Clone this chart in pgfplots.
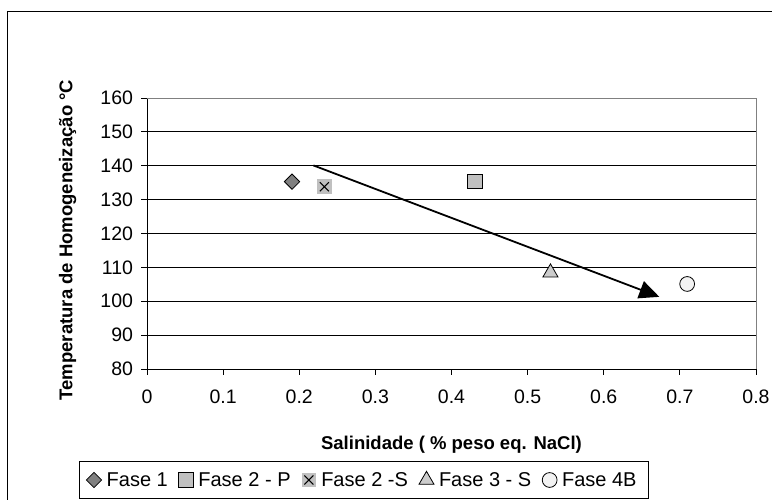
\documentclass[border=0pt]{standalone}
\usepackage{fontspec}
\setmainfont{Liberation Sans}
\usepackage{pgfplots}
\pgfplotsset{compat=1.18}
\usetikzlibrary{arrows.meta}
\definecolor{dgray}{HTML}{808080}
\definecolor{silv}{HTML}{C0C0C0}
\definecolor{tgray}{HTML}{CCCCCC}
\definecolor{cwhite}{HTML}{F2F2F2}
\pgfdeclareplotmark{grayx}{%
  \pgfsetfillcolor{silv}%
  \pgfpathrectangle{\pgfqpoint{-7.3pt}{-7.3pt}}{\pgfqpoint{14.6pt}{14.6pt}}%
  \pgfusepath{fill}%
  \pgfsetstrokecolor{black}%
  \pgfsetlinewidth{1.1pt}%
  \pgfpathmoveto{\pgfqpoint{-4.5pt}{-4.5pt}}\pgfpathlineto{\pgfqpoint{4.5pt}{4.5pt}}%
  \pgfpathmoveto{\pgfqpoint{-4.5pt}{4.5pt}}\pgfpathlineto{\pgfqpoint{4.5pt}{-4.5pt}}%
  \pgfusepath{stroke}%
}
\begin{document}
\begin{tikzpicture}
\useasboundingbox (0pt,0pt) rectangle (772pt,500pt);
\draw[black, line width=1pt] (7pt,-20pt) -- (7pt,488pt) -- (800pt,488pt);
\begin{axis}[
  at={(147pt,131pt)}, anchor=south west,
  scale only axis, width=609pt, height=271pt,
  xmin=0, xmax=0.8, ymin=80, ymax=160,
  xtick={0,0.1,0.2,0.3,0.4,0.5,0.6,0.7,0.8},
  ytick={80,90,100,110,120,130,140,150,160},
  axis lines*=left,
  axis line style={black, line width=0.9pt},
  tick align=outside, major tick length=6pt,
  tick style={black, line width=0.9pt},
  ymajorgrids, grid style={black, line width=0.8pt},
  /pgf/number format/assume math mode=true,
  ticklabel style={font=\fontsize{19.5}{22}\selectfont},
  xticklabel style={yshift=-11pt},
  yticklabel style={xshift=-4.5pt},
  xlabel={Salinidade ( \% peso eq. NaCl)},
  ylabel={Temperatura de Homogeneização °C},
  label style={font=\fontsize{18.5}{20}\bfseries},
  xlabel style={at={(axis description cs:0.5,-0.2804)}, anchor=center},
  ylabel style={at={(axis description cs:-0.1305,0.476)}, anchor=center},
  legend columns=5,
  legend style={at={(axis description cs:0.3563,-0.4096)}, anchor=center,
    draw=black, line width=0.8pt, fill=white,
    font=\fontsize{20}{22}\selectfont,
    inner xsep=7pt, inner ysep=7.5pt,
    nodes={inner xsep=5pt, inner ysep=3pt},
    /tikz/every even column/.append style={column sep=6pt}},
  legend image code/.code={\draw[#1] plot coordinates {(0pt,0pt)};},
  clip=false,
]
\draw[dgray, line width=0.9pt] (rel axis cs:0,1) -- (rel axis cs:1,1) -- (rel axis cs:1,0);
\addplot[only marks, mark=square*, mark size=5.4pt, fill=dgray, draw=black, line width=0.8pt, mark options={rotate=45}]
  coordinates {(0.1905,135.3)};
\addlegendentry{Fase 1}
\addplot[only marks, mark=square*, mark size=7.3pt, fill=silv, draw=black, line width=0.8pt]
  coordinates {(0.4306,135.4)};
\addlegendentry{Fase 2 - P}
\addplot[only marks, mark=grayx, draw=black]
  coordinates {(0.233,133.8)};
\addlegendentry{Fase 2 -S}
\addplot[only marks, mark=triangle*, mark size=8.7pt, fill=tgray, draw=black, line width=0.8pt]
  coordinates {(0.530,108.45)};
\addlegendentry{Fase 3 - S}
\addplot[only marks, mark=*, mark size=7.4pt, fill=cwhite, draw=black, line width=0.8pt]
  coordinates {(0.7096,105.1)};
\addlegendentry{Fase 4B}
\addplot[black, line width=1.8pt, -{Triangle[length=20pt,width=18pt]}, forget plot]
  coordinates {(0.2186,140.1) (0.673,101.3)};
\end{axis}
\end{tikzpicture}
\end{document}
